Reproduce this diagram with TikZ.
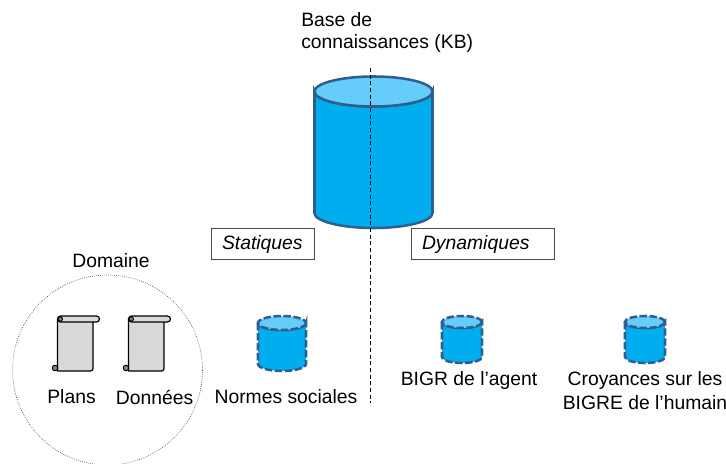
\documentclass[tikz,border=0pt]{standalone}
\usepackage{fontspec}
\setmainfont{Liberation Sans}
\usetikzlibrary{calc,
positioning}
\definecolor{kbEdge}{HTML}{2F5F8F}
\definecolor{kbBody}{HTML}{00AEEF}
\definecolor{kbTop}{HTML}{66CCFA}
\definecolor{scrollFill}{HTML}{D9D9D9}
\tikzset{
  kbline/.style={draw=kbEdge, line width=1.9pt},
  smallkb/.style={kbline/.append style={dash pattern=on 5.5pt off 2pt}},
  lbl/.style={font=\fontsize{14.5}{18}\selectfont, inner sep=0pt, align=center},
  tag/.style={lbl, draw=black!70, line width=.5pt, font=\fontsize{14.5}{18}\selectfont\itshape,
    minimum height=23.5pt, inner xsep=8pt, anchor=west, align=left},
  % half width, body height, radius of the ends
  pics/kbcyl/.style n args={3}{code={
    \path [kbline, fill=kbBody]
      (-#1,0) -- (-#1,#2) arc (180:0:#1 and #3) -- (#1,0) arc (0:180:#1 and #3) -- cycle;
    \path [kbline, fill=kbTop] (0,0) ellipse (#1 and #3);
  }},
  pics/scroll/.style={code={
    \draw [line width=.9pt, fill=scrollFill, line join=round]
      (0,3) -- (0,55) -- (33,55) arc (90:0:2.5) -- (35.5,3) -- cycle;
    \draw [line width=.9pt, fill=scrollFill]
      (3,0) -- (39,0) arc (-90:90:3) -- (3,6) arc (90:270:3) -- cycle;
    \draw [line width=.7pt, fill=scrollFill!60!black] (2.8,3) circle (2.2);
    \draw [line width=.7pt, fill=scrollFill!60!black] (-2.5,52) circle (2.8);
  }}
}

\begin{document}
\begin{tikzpicture}[x=.75pt,y=-.75pt]
  \useasboundingbox (0,0) rectangle (726,464);

  \pic at (373.5,91.5) {kbcyl={59}{121.5}{15}};
  \coordinate (axistop) at (370.5,68);
  \coordinate (axisend) at (370.5,403);
  \draw [densely dashed, line width=.7pt] (axistop) -- (axisend);

  \node [lbl, align=left, anchor=north west] (kblb) at (301,12) {Base de\\[-1.5pt]connaissances (KB)};

  \node [tag, text width=61pt] (stat) at (211,244) {Statiques};
  \node [tag, text width=91pt] (dyn) at (411,244) {Dynamiques};

  \node [draw=black!70, densely dotted, line width=.5pt, circle, minimum size=142.5pt, inner sep=0pt] (dom) at (107.5,370) {};
  \node [lbl] (domlb) at (111,261) {Domaine};

  \pic at (57.5,316) {scroll};
  \pic at (128.5,316) {scroll};
  \node [lbl] (plans) at (71.5,397) {Plans};
  \node [lbl] (data) at (154.5,397) {Données};

  \begin{scope}[smallkb]
    \pic at (282,323) {kbcyl={24}{41}{7}};
    \foreach \x in {462,645} {
      \pic at (\x,322) {kbcyl={20}{35}{6}};
    }
  \end{scope}
  \node [lbl] (soclb) at (286,397) {Normes sociales};
  \node [lbl] (agentlb) at (469,380) {BIGR de l’agent};
  \node [lbl, anchor=north] (humlb) at (645,371) {Croyances sur les\\BIGRE de l’humain};
\end{tikzpicture}
\end{document}
